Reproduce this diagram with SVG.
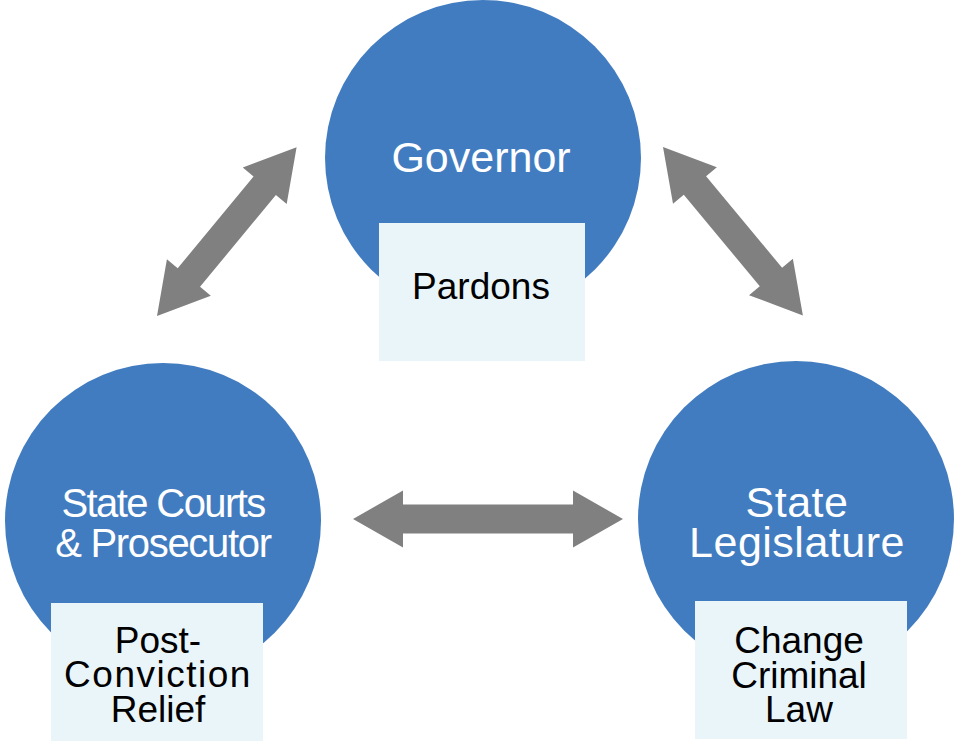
<svg xmlns="http://www.w3.org/2000/svg" width="956" height="744" viewBox="0 0 956 744">
  <style>
    .circ { fill: #427CC0; }
    .box { fill: #EAF5FA; }
    .title { font-family: "Liberation Sans", Arial, sans-serif; fill: #FFFFFF; text-anchor: middle; }
    .label { font-family: "Liberation Sans", Arial, sans-serif; fill: #000000; text-anchor: middle; font-size: 37px; }
    .arrow { fill: #808080; }
  </style>
  <defs>
    <path id="arrH" d="M0,0 L50,-28.5 L50,-14.5 L220,-14.5 L220,-28.5 L270,0 L220,28.5 L220,14.5 L50,14.5 L50,28.5 Z"/>
    <path id="arrD" d="M0,0 L50,-28.5 L50,-14.5 L169,-14.5 L169,-28.5 L219,0 L169,28.5 L169,14.5 L50,14.5 L50,28.5 Z"/>
  </defs>

  <g id="connectors">
    <use href="#arrD" class="arrow" transform="translate(157,316) rotate(-50.4)"/>
    <use href="#arrD" class="arrow" transform="translate(663,147) rotate(50.3)"/>
    <use href="#arrH" class="arrow" transform="translate(353,519)"/>
  </g>

  <g id="governor">
    <circle class="circ" cx="483" cy="158" r="158"/>
    <text class="title" x="481" y="172" font-size="43">Governor</text>
    <rect class="box" x="379" y="223" width="206" height="138"/>
    <text class="label" x="481" y="299">Pardons</text>
  </g>

  <g id="state-courts">
    <circle class="circ" cx="163" cy="521" r="158"/>
    <text class="title" x="163" y="517" font-size="40" letter-spacing="-1.6">State Courts</text>
    <text class="title" x="163" y="557" font-size="40" letter-spacing="-1.3">&amp; Prosecutor</text>
    <rect class="box" x="51" y="603" width="212" height="138"/>
    <text class="label" x="158" y="653">Post-</text>
    <text class="label" x="158" y="687" letter-spacing="1.5">Conviction</text>
    <text class="label" x="158" y="722">Relief</text>
  </g>

  <g id="state-legislature">
    <circle class="circ" cx="796" cy="519" r="158"/>
    <text class="title" x="797" y="517" font-size="43" letter-spacing="0.5">State</text>
    <text class="title" x="797" y="557" font-size="43" letter-spacing="0.5">Legislature</text>
    <rect class="box" x="695" y="601" width="212" height="138"/>
    <text class="label" x="799" y="653">Change</text>
    <text class="label" x="799" y="688">Criminal</text>
    <text class="label" x="799" y="722">Law</text>
  </g>
</svg>
